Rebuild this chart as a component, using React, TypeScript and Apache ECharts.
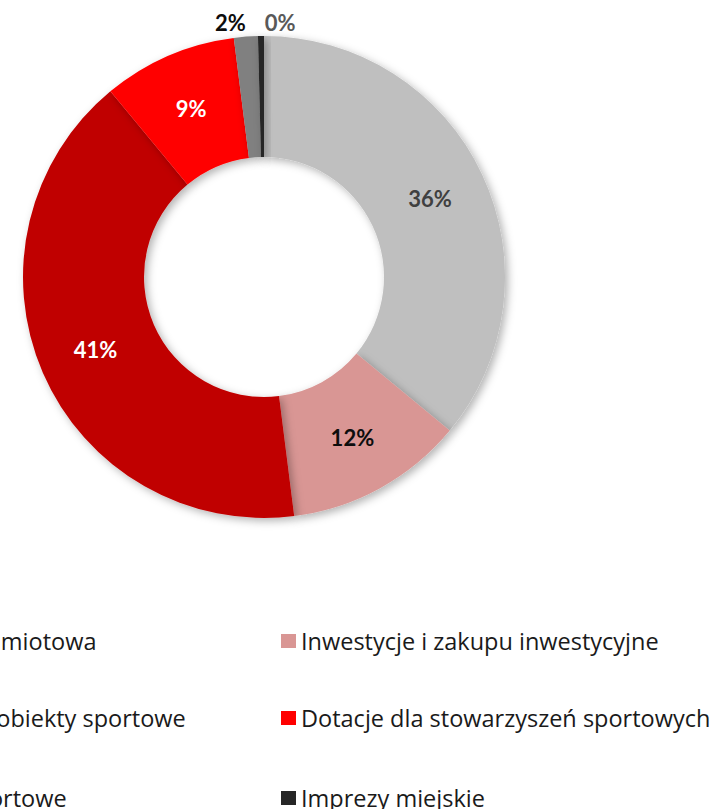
import React, { useEffect, useRef } from "react";
import * as echarts from "echarts";

const categories = [
  "Dotacja podmiotowa",
  "Inwestycje i zakupu inwestycyjne",
  "Wydatki na obiekty sportowe",
  "Dotacje dla stowarzyszeń sportowych",
  "Imprezy sportowe",
  "Imprezy miejskie",
];
const values = [36, 12, 41, 9, 1.6, 0.4];
const colors = ["#BFBFBF", "#D99694", "#C00000", "#FF0000", "#808080", "#262626"];
const labelColors = ["#404040", "#0d0d0d", "#ffffff", "#ffffff", "#0d0d0d", "#595959"];
const outsideLabels = [false, false, false, false, true, true];

const FONT = "Lato, 'Open Sans', sans-serif";
const LEGEND_FONT = "'Open Sans', Lato, sans-serif";

export default function App() {
  const ref = useRef<HTMLDivElement>(null);
  useEffect(() => {
    if (!ref.current) return;
    const chart = echarts.init(ref.current, null, { renderer: "svg" });
    const data = categories.map((name, i) => ({
      name,
      value: values[i],
      itemStyle: { color: colors[i] },
      label: {
        position: outsideLabels[i] ? "outside" : "inside",
        color: labelColors[i],
      },
      labelLine: { show: false, length: 14, length2: 0 },
    }));
    const rowTops = [629, 706, 786];
    const colLefts = [-151, 281];
    const legends = categories.map((name, i) => ({
      orient: "horizontal",
      icon: "rect",
      itemWidth: 15,
      itemHeight: 14,
      padding: 0,
      left: colLefts[i % 2],
      top: rowTops[Math.floor(i / 2)],
      selectedMode: false,
      data: [name],
      textStyle: { fontFamily: LEGEND_FONT, fontSize: 23.5, color: "#1a1a1a", lineHeight: 24 },
    }));
    chart.setOption({
      animation: false,
      backgroundColor: "#ffffff",
      legend: legends,
      series: [
        {
          type: "pie",
          center: [264, 277],
          radius: [120, 241],
          startAngle: 90,
          clockwise: true,
          avoidLabelOverlap: false,
          data,
          itemStyle: {
            shadowBlur: 8,
            shadowOffsetX: 3,
            shadowOffsetY: 3,
            shadowColor: "rgba(0,0,0,0.3)",
          },
          label: {
            fontFamily: FONT,
            fontSize: 22,
            fontWeight: "bold",
            distanceToLabelLine: 4,
            formatter: (p: any) => Math.round(p.percent) + "%",
          },
          labelLayout: (p: any) =>
            p.dataIndex === 5 ? { align: "left", dx: 8 } : p.dataIndex === 4 ? { dx: 5 } : {},
          emphasis: { disabled: true },
        },
      ],
    });
    return () => chart.dispose();
  }, []);
  return (
    <div
      ref={ref}
      style={{ position: "fixed", left: 0, top: 0, width: 714, height: 809 }}
    />
  );
}
